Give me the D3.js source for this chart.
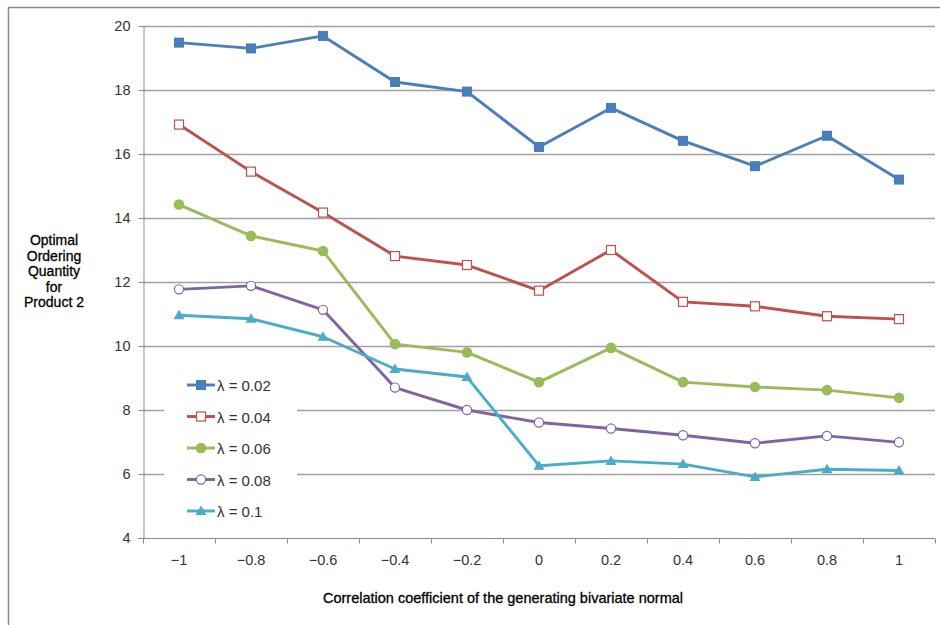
<!DOCTYPE html>
<html>
<head>
<meta charset="utf-8">
<script src="https://cdn.jsdelivr.net/npm/d3@7"></script>
<style>
  html, body { margin: 0; padding: 0; background: #fff; }
  svg { display: block; }
</style>
</head>
<body>
<svg id="chart" width="940" height="625"></svg>
<script>
// Correlation coefficients (categories) and their printed labels
const correlations = [-1, -0.8, -0.6, -0.4, -0.2, 0, 0.2, 0.4, 0.6, 0.8, 1];
const xTickLabels = ["\u22121", "\u22120.8", "\u22120.6", "\u22120.4", "\u22120.2", "0", "0.2", "0.4", "0.6", "0.8", "1"];
const yTicks = [4, 6, 8, 10, 12, 14, 16, 18, 20];

// Optimal ordering quantity for product 2, one array per lambda
const lambda002 = [19.48, 19.30, 19.69, 18.25, 17.95, 16.22, 17.44, 16.41, 15.62, 16.57, 15.20];
const lambda004 = [16.92, 15.45, 14.17, 12.81, 12.53, 11.73, 13.00, 11.38, 11.24, 10.93, 10.84];
const lambda006 = [14.42, 13.44, 12.97, 10.06, 9.80, 8.87, 9.94, 8.87, 8.72, 8.62, 8.38];
const lambda008 = [11.77, 11.88, 11.13, 8.70, 8.00, 7.61, 7.42, 7.21, 6.96, 7.19, 6.99];
const lambda010 = [10.96, 10.85, 10.29, 9.28, 9.03, 6.26, 6.41, 6.31, 5.91, 6.15, 6.11];

const seriesNames = ["\u03bb = 0.02", "\u03bb = 0.04", "\u03bb = 0.06", "\u03bb = 0.08", "\u03bb = 0.1"];
const seriesValues = [lambda002, lambda004, lambda006, lambda008, lambda010];
const seriesColors = ["#4a7ebb", "#c0504d", "#9bbb59", "#8064a2", "#4bacc6"];
const seriesMarkers = ["squareFilled", "squareOpen", "circleFilled", "circleOpen", "triangle"];

const svg = d3.select("#chart");
const font = "'Liberation Sans', Arial, sans-serif";

// Outer frame of the chart area
svg.append("rect")
  .attr("x", 8.5).attr("y", 7.5)
  .attr("width", 940).attr("height", 640)
  .attr("fill", "none").attr("stroke", "#8c8c8c").attr("stroke-width", 1.5);

const plot = { left: 143, right: 935, top: 26, bottom: 538 };

const x = d3.scaleBand()
  .domain(correlations)
  .range([plot.left, plot.right]);
const xc = d => x(d) + x.bandwidth() / 2;

const y = d3.scaleLinear()
  .domain([4, 20])
  .range([plot.bottom, plot.top]);

// Horizontal gridlines
svg.append("g")
  .selectAll("line")
  .data(yTicks.filter(t => t > 4))
  .join("line")
  .attr("x1", plot.left).attr("x2", plot.right)
  .attr("y1", d => Math.round(y(d)) + 0.5).attr("y2", d => Math.round(y(d)) + 0.5)
  .attr("stroke", "#a0a0a0").attr("stroke-width", 1.3);

// Y axis
const yAxis = svg.append("g")
  .attr("transform", `translate(${plot.left + 0.5},0)`)
  .call(d3.axisLeft(y).tickValues(yTicks).tickSize(5).tickPadding(8).tickFormat(d3.format("d")));
yAxis.select(".domain").attr("stroke", "#8c8c8c");
yAxis.selectAll(".tick line").attr("stroke", "#8c8c8c");
yAxis.selectAll(".tick text")
  .attr("font-family", font).attr("font-size", 14.5).attr("fill", "#333");

// X axis: labels under category centres, tick marks on category boundaries
const xAxis = svg.append("g")
  .attr("transform", `translate(0,${plot.bottom + 0.5})`)
  .call(d3.axisBottom(x).tickSize(0).tickPadding(16)
    .tickFormat((d, i) => xTickLabels[i]));
xAxis.select(".domain").attr("stroke", "#8c8c8c").attr("d", `M${plot.left},0H${plot.right}`);
xAxis.selectAll(".tick text")
  .attr("font-family", font).attr("font-size", 14.5).attr("fill", "#333");
xAxis.append("g")
  .selectAll("line")
  .data(correlations.map(c => x(c)).concat([plot.right]))
  .join("line")
  .attr("x1", d => Math.round(d) + 0.5).attr("x2", d => Math.round(d) + 0.5)
  .attr("y1", 0).attr("y2", 5)
  .attr("stroke", "#8c8c8c");

// Axis titles
svg.append("text")
  .attr("x", 503).attr("y", 603)
  .attr("text-anchor", "middle")
  .attr("font-family", font).attr("font-size", 14.5).attr("fill", "#000")
  .attr("stroke", "#000").attr("stroke-width", 0.3)
  .text("Correlation coefficient of the generating bivariate normal");

const yTitle = svg.append("text")
  .attr("text-anchor", "middle")
  .attr("font-family", font).attr("font-size", 14).attr("fill", "#000")
  .attr("stroke", "#000").attr("stroke-width", 0.3);
["Optimal", "Ordering", "Quantity", "for", "Product 2"].forEach((line, i) => {
  yTitle.append("tspan").attr("x", 54).attr("y", 245 + i * 15.6).text(line);
});

// Marker drawing helper
function drawMarker(sel, kind, color) {
  if (kind === "squareFilled") {
    sel.append("rect").attr("x", -5).attr("y", -5).attr("width", 10).attr("height", 10)
      .attr("fill", color);
  } else if (kind === "squareOpen") {
    sel.append("rect").attr("x", -4.5).attr("y", -4.5).attr("width", 9).attr("height", 9)
      .attr("fill", "#fff").attr("stroke", color).attr("stroke-width", 1.2);
  } else if (kind === "circleFilled") {
    sel.append("circle").attr("r", 5.3).attr("fill", color);
  } else if (kind === "circleOpen") {
    sel.append("circle").attr("r", 4.6).attr("fill", "#fff")
      .attr("stroke", color).attr("stroke-width", 1.2);
  } else if (kind === "triangle") {
    sel.append("path").attr("d", "M0,-5.5L5.5,4L-5.5,4Z").attr("fill", color);
  }
}

// Series lines and markers
const line = d3.line().x((d, i) => xc(correlations[i])).y(d => y(d));
seriesValues.forEach((vals, s) => {
  const g = svg.append("g");
  g.append("path")
    .datum(vals)
    .attr("d", line)
    .attr("fill", "none")
    .attr("stroke", seriesColors[s])
    .attr("stroke-width", 2.9)
    .attr("stroke-linejoin", "round");
  g.selectAll("g.pt")
    .data(vals)
    .join("g")
    .attr("class", "pt")
    .attr("transform", (d, i) => `translate(${xc(correlations[i])},${y(d)})`)
    .each(function () { drawMarker(d3.select(this), seriesMarkers[s], seriesColors[s]); });
});

// Legend
const legend = svg.append("g");
legend.append("rect")
  .attr("x", 164).attr("y", 366).attr("width", 133).attr("height", 162)
  .attr("fill", "#fff");
seriesNames.forEach((name, s) => {
  const row = legend.append("g").attr("transform", `translate(0,${385 + s * 31.5})`);
  row.append("line")
    .attr("x1", 187).attr("x2", 215).attr("y1", 0).attr("y2", 0)
    .attr("stroke", seriesColors[s]).attr("stroke-width", 2.9);
  const m = row.append("g").attr("transform", "translate(201,0)");
  drawMarker(m, seriesMarkers[s], seriesColors[s]);
  row.append("text")
    .attr("x", 217).attr("y", 6)
    .attr("font-family", font).attr("font-size", 15).attr("fill", "#333")
    .text(name);
});
</script>
</body>
</html>
